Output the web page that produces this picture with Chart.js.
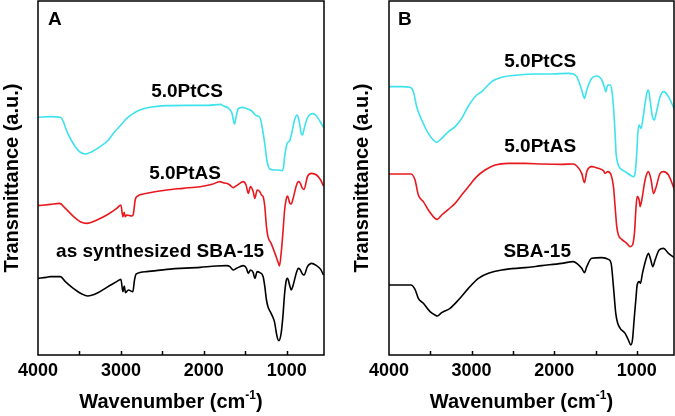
<!DOCTYPE html>
<html>
<head>
<meta charset="utf-8">
<script src="https://cdn.jsdelivr.net/npm/chart.js@4/dist/chart.umd.min.js"></script>
<style>
  html, body { margin: 0; padding: 0; background: #fff; }
  #wrap { position: relative; width: 675px; height: 416px; }
  .panel { position: absolute; top: 0; height: 416px; }
  #panelA { left: 0; width: 335px; }
  #panelB { left: 335px; width: 340px; }
</style>
</head>
<body>
<div id="wrap">
  <div class="panel" id="panelA"><canvas id="chartA"></canvas></div>
  <div class="panel" id="panelB"><canvas id="chartB"></canvas></div>
</div>
<script>
// x tick labels and the 500 step inner ticks
const tickValues = [4000, 3000, 2000, 1000];
const minorTicks = [3500, 3000, 2500, 2000, 1500, 1000];

// ---- panel A ----
const aCsWn = [4000,3850,3730,3700,3650,3600,3550,3500,3430,3350,3250,3150,3090,3000,2930,2850,2770,2650,2450,2200,1950,1800,1760,1700,1660,1630,1610,1585,1530,1490,1440,1405,1380,1350,1320,1290,1260,1240,1220,1200,1150,1100,1060,1040,1025,1000,985,965,940,905,875,860,845,825,810,790,760,725,690,660,620,580,555];
const aCsT  = [7.13,7.15,7.13,7.03,6.70,6.45,6.25,6.10,6.03,6.10,6.25,6.45,6.65,6.90,7.10,7.25,7.35,7.43,7.48,7.49,7.49,7.52,7.47,7.40,7.25,6.93,7.15,7.39,7.43,7.40,7.35,7.28,7.20,7.17,7.10,6.75,6.25,5.85,5.65,5.57,5.55,5.55,5.53,5.60,5.95,6.30,6.38,6.42,6.65,7.05,7.20,7.12,6.95,6.65,6.60,6.78,7.05,7.20,7.24,7.22,7.10,6.93,6.83];

const aAsWn = [4000,3850,3740,3670,3570,3490,3410,3290,3170,3050,3000,2976,2960,2948,2928,2868,2848,2828,2808,2687,2446,2250,2046,1900,1805,1765,1725,1685,1645,1605,1525,1490,1464,1436,1404,1384,1356,1324,1304,1284,1264,1244,1226,1188,1127,1092,1087,1067,1046,1025,1004,990,962,945,925,885,860,840,810,790,750,700,640,590,557];
const aAsT  = [4.48,4.52,4.55,4.40,4.15,4.00,3.95,4.05,4.20,4.40,4.50,4.15,4.28,4.15,4.20,4.17,4.25,4.65,4.75,4.85,4.95,5.00,5.05,5.12,5.20,5.17,5.15,5.10,5.02,5.08,5.20,5.10,4.85,5.05,4.90,4.70,4.95,4.90,4.80,4.75,4.45,3.85,3.55,3.35,2.95,2.70,2.67,3.05,3.65,4.35,4.70,4.77,4.55,4.53,4.67,5.07,5.20,5.17,5.00,4.97,5.35,5.45,5.40,5.25,5.07];

const aSbaWn = [4000,3900,3850,3730,3670,3590,3470,3400,3290,3170,3050,3000,2976,2960,2944,2910,2856,2836,2816,2690,2446,2046,1850,1725,1685,1645,1605,1525,1485,1464,1436,1404,1384,1356,1324,1284,1264,1244,1226,1188,1148,1116,1096,1067,1046,1025,1004,990,962,945,925,885,860,840,810,790,750,700,640,590,557];
const aSbaT  = [2.30,2.33,2.35,2.35,2.20,2.03,1.83,1.77,1.85,2.03,2.20,2.27,1.90,2.07,1.87,1.95,1.90,2.25,2.43,2.50,2.57,2.63,2.67,2.68,2.65,2.55,2.60,2.68,2.60,2.45,2.55,2.47,2.30,2.50,2.47,2.35,2.05,1.65,1.45,1.25,1.00,0.55,0.43,0.65,1.15,1.85,2.25,2.30,2.07,1.95,2.07,2.45,2.60,2.57,2.43,2.40,2.65,2.75,2.68,2.57,2.40];

// ---- panel B ----
const bCsWn = [4000,3850,3746,3705,3665,3604,3524,3463,3423,3362,3281,3200,3120,3039,2938,2878,2757,2636,2434,2232,2030,1828,1768,1727,1667,1634,1606,1546,1485,1424,1392,1376,1352,1323,1303,1283,1263,1251,1231,1202,1142,1081,1041,1021,1001,988,972,948,920,880,860,840,811,787,766,718,678,617,550];
const bCsT  = [8.05,8.05,8.03,7.90,7.45,7.05,6.65,6.45,6.38,6.50,6.70,6.85,7.10,7.47,7.80,7.90,8.20,8.33,8.40,8.43,8.43,8.45,8.43,8.35,7.95,7.70,7.95,8.30,8.37,8.25,8.03,7.90,8.10,8.10,7.95,7.45,6.65,6.05,5.75,5.60,5.50,5.40,5.35,5.45,6.05,6.65,6.90,6.80,7.20,7.85,7.95,7.65,7.15,7.05,7.25,7.75,7.90,7.75,7.40];

const bAsWn = [4000,3850,3734,3685,3645,3584,3524,3443,3415,3362,3281,3200,3120,3039,2938,2837,2716,2555,2353,2151,1909,1768,1727,1667,1634,1606,1546,1465,1404,1384,1352,1311,1283,1263,1243,1223,1182,1122,1081,1053,1029,1009,996,972,960,940,900,860,827,799,771,718,678,617,550];
const bAsT  = [5.43,5.43,5.43,5.25,4.80,4.60,4.35,4.10,4.07,4.20,4.37,4.55,4.80,5.05,5.35,5.55,5.70,5.75,5.75,5.73,5.72,5.73,5.67,5.45,5.17,5.50,5.65,5.60,5.53,5.45,5.50,5.40,5.05,4.45,3.85,3.60,3.47,3.35,3.25,3.30,3.65,4.45,4.75,4.65,4.45,4.65,5.25,5.50,5.25,4.85,5.00,5.45,5.50,5.40,5.00];

const bSbaWn = [4000,3850,3734,3685,3645,3584,3503,3443,3415,3362,3261,3160,3039,2918,2797,2636,2353,2151,1909,1768,1727,1667,1634,1606,1546,1424,1344,1311,1283,1255,1231,1202,1142,1102,1073,1053,1033,1009,996,972,956,932,880,860,831,807,779,730,678,617,550];
const bSbaT  = [2.10,2.10,2.10,1.97,1.70,1.55,1.30,1.20,1.17,1.27,1.40,1.65,2.00,2.30,2.45,2.55,2.62,2.68,2.75,2.80,2.75,2.60,2.47,2.65,2.90,2.92,2.87,2.75,2.05,1.25,0.95,0.80,0.65,0.45,0.30,0.45,1.05,1.75,2.10,2.20,2.15,2.45,2.95,3.05,2.85,2.65,2.85,3.15,3.20,3.05,2.93];

// curve names, placed at [wavenumber, a.u.]
const aLabels = [
  { text: '5.0PtCS', wn: 2202, t: 7.89 },
  { text: '5.0PtAS', wn: 2226, t: 5.45 },
  { text: 'as synthesized SBA-15', wn: 2527, t: 3.10 }
];
const bLabels = [
  { text: '5.0PtCS', wn: 2170, t: 8.80 },
  { text: '5.0PtAS', wn: 2170, t: 6.24 },
  { text: 'SBA-15', wn: 2206, t: 3.10 }
];

const CYAN = '#3ee2ec';
const RED = '#e8181e';
const BLACK = '#000000';
const FONT = '"Liberation Sans", Arial, sans-serif';

Chart.defaults.font.family = FONT;
Chart.defaults.color = '#000';

const toPts = (wn, t) => wn.map((w, i) => ({ x: w, y: t[i] }));

const line = (wn, t, color) => ({
  data: toPts(wn, t),
  borderColor: color,
  borderWidth: 1.6,
  pointRadius: 0,
  cubicInterpolationMode: 'monotone',
  fill: false
});

const decorPlugin = {
  id: 'decor',
  afterDraw(chart, args, opts) {
    const { ctx, chartArea: a } = chart;
    const x = chart.scales.x, y = chart.scales.y;
    ctx.save();
    ctx.strokeStyle = '#000';
    ctx.lineWidth = 1.5;
    ctx.strokeRect(a.left, a.top, a.right - a.left, a.bottom - a.top);
    ctx.beginPath();
    minorTicks.forEach(v => {
      const px = Math.round(x.getPixelForValue(v)) + 0.5;
      ctx.moveTo(px, a.bottom);
      ctx.lineTo(px, a.bottom - 4);
    });
    ctx.stroke();

    ctx.fillStyle = '#000';
    ctx.font = 'bold 19px ' + FONT;
    ctx.textAlign = 'center';
    ctx.textBaseline = 'middle';
    opts.labels.forEach(l => {
      ctx.fillText(l.text, x.getPixelForValue(l.wn), y.getPixelForValue(l.t));
    });

    ctx.font = 'bold 19px ' + FONT;
    ctx.textAlign = 'left';
    ctx.textBaseline = 'alphabetic';
    ctx.fillText(opts.letter, a.left + opts.letterDx, a.top + 24);

    // x title with superscript
    const main = 'Wavenumber (cm', sup = '-1', tail = ')';
    const big = 'bold 20px ' + FONT, small = 'bold 12px ' + FONT;
    ctx.font = big;
    const w1 = ctx.measureText(main).width, w3 = ctx.measureText(tail).width;
    ctx.font = small;
    const w2 = ctx.measureText(sup).width;
    let sx = (a.left + a.right) / 2 - 10 - (w1 + w2 + w3) / 2;
    const base = 408;
    ctx.font = big;
    ctx.fillText(main, sx, base);
    ctx.font = small;
    ctx.fillText(sup, sx + w1, base - 9);
    ctx.font = big;
    ctx.fillText(tail, sx + w1 + w2, base);
    ctx.restore();
  }
};

function makeChart(id, datasets, labels, letter, letterDx, padLeft, padRight, yWidth) {
  return new Chart(document.getElementById(id), {
    type: 'line',
    data: { datasets },
    options: {
      responsive: true,
      maintainAspectRatio: false,
      animation: false,
      devicePixelRatio: 1,
      layout: { padding: { left: padLeft, right: padRight, top: 1, bottom: 0 } },
      plugins: {
        legend: { display: false },
        tooltip: { enabled: false },
        decor: { labels, letter, letterDx }
      },
      scales: {
        x: {
          type: 'linear',
          reverse: true,
          min: 550,
          max: 4000,
          grid: { display: false, drawTicks: false },
          border: { display: false },
          afterBuildTicks: s => { s.ticks = tickValues.map(v => ({ value: v })); },
          afterFit: s => { s.height = 61; },
          ticks: {
            autoSkip: false,
            maxRotation: 0,
            padding: 5,
            font: { size: 18, weight: 'bold' },
            color: '#000',
            callback: v => String(v)
          }
        },
        y: {
          min: 0,
          max: 10.62,
          grid: { display: false, drawTicks: false },
          border: { display: false },
          ticks: { display: false },
          afterFit: s => { s.width = yWidth; },
          title: {
            display: true,
            text: 'Transmittance (a.u.)',
            font: { size: 20, weight: 'bold' },
            color: '#000',
            padding: 0
          }
        }
      }
    },
    plugins: [decorPlugin]
  });
}

makeChart('chartA', [
  line(aCsWn, aCsT, CYAN),
  line(aAsWn, aAsT, RED),
  line(aSbaWn, aSbaT, BLACK)
], aLabels, 'A', 10, 0, 11, 38);

makeChart('chartB', [
  line(bCsWn, bCsT, CYAN),
  line(bAsWn, bAsT, RED),
  line(bSbaWn, bSbaT, BLACK)
], bLabels, 'B', 9, 15, 1, 39);
</script>
</body>
</html>
